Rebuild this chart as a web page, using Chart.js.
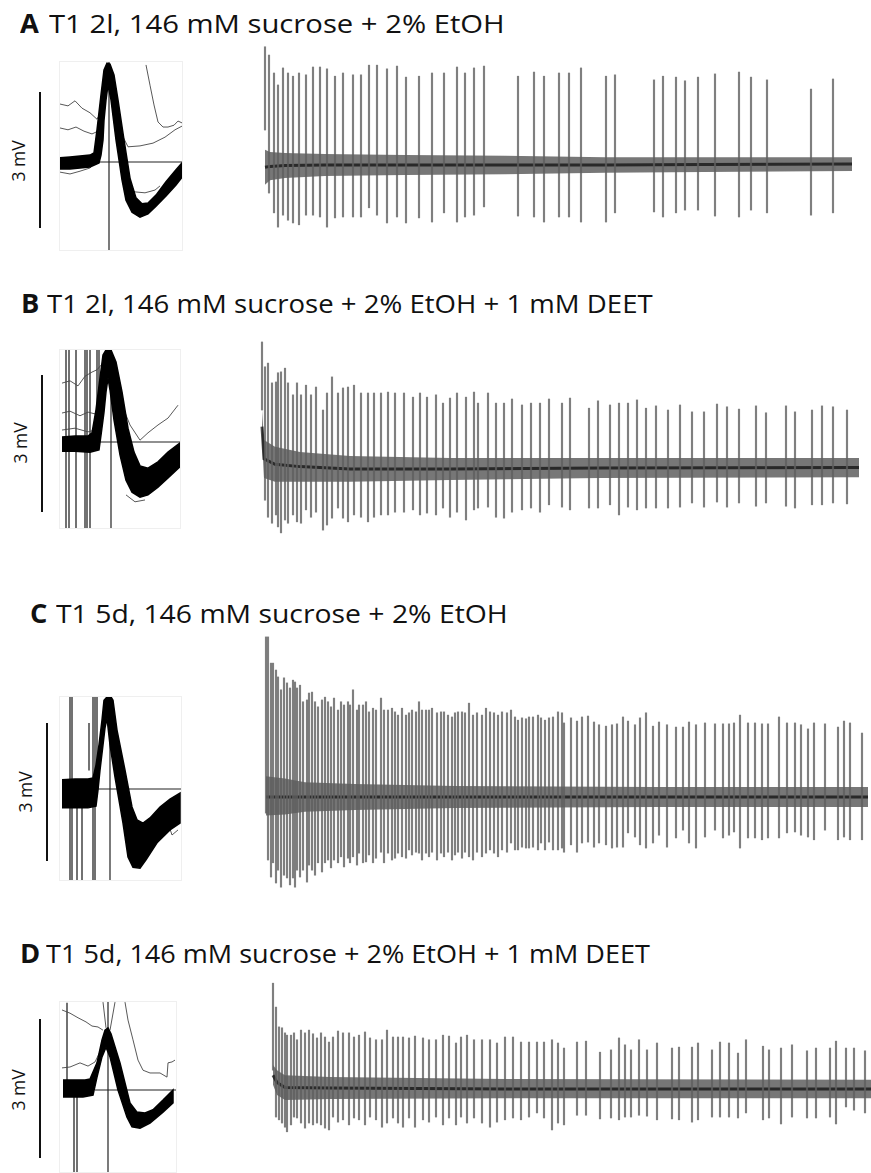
<!DOCTYPE html>
<html>
<head>
<meta charset="utf-8">
<script src="https://cdn.jsdelivr.net/npm/chart.js@4.4.0/dist/chart.umd.min.js"></script>
<style>
  body { margin: 0; width: 871px; height: 1173px; position: relative; overflow: hidden; background: #fff; font-family: "Open Sans", sans-serif; color: #111; }
  .lbl { position: absolute; font-size: 26px; line-height: 1; font-weight: 700; transform: scaleX(1.05); transform-origin: left top; }
  .ttl { position: absolute; font-size: 26px; line-height: 1; white-space: nowrap; transform-origin: left top; }
  .sbar { position: absolute; width: 2px; background: #111; }
  .mv { position: absolute; font-size: 17.5px; line-height: 1; white-space: nowrap; transform: translate(-50%, -50%) rotate(-90deg); }
  canvas { position: absolute; }
  .frame { outline: 1px solid #efefef; }
</style>
</head>
<body>
<div class="lbl" style="left:20px;top:10px">A</div>
<div class="ttl" style="left:49px;top:10px;transform:scaleX(1.125)">T1 2l, 146 mM sucrose + 2% EtOH</div>
<div class="lbl" style="left:21px;top:290px">B</div>
<div class="ttl" style="left:47px;top:290px;transform:scaleX(1.06)">T1 2l, 146 mM sucrose + 2% EtOH + 1 mM DEET</div>
<div class="lbl" style="left:30px;top:600px">C</div>
<div class="ttl" style="left:56px;top:600px;transform:scaleX(1.09)">T1 5d, 146 mM sucrose + 2% EtOH</div>
<div class="lbl" style="left:20px;top:940px">D</div>
<div class="ttl" style="left:46px;top:940px;transform:scaleX(1.04)">T1 5d, 146 mM sucrose + 2% EtOH + 1 mM DEET</div>

<div class="sbar" style="left:39px;top:92px;height:136px"></div>
<div class="sbar" style="left:41px;top:375px;height:137px"></div>
<div class="sbar" style="left:46px;top:723px;height:138px"></div>
<div class="sbar" style="left:39px;top:1019px;height:139px"></div>
<div class="mv" style="left:19px;top:161px">3 mV</div>
<div class="mv" style="left:21px;top:443px">3 mV</div>
<div class="mv" style="left:26px;top:792px">3 mV</div>
<div class="mv" style="left:19px;top:1090px">3 mV</div>

<canvas id="waveA" class="frame"></canvas><canvas id="traceA"></canvas>
<canvas id="waveB" class="frame"></canvas><canvas id="traceB"></canvas>
<canvas id="waveC" class="frame"></canvas><canvas id="traceC"></canvas>
<canvas id="waveD" class="frame"></canvas><canvas id="traceD"></canvas>

<script>
// ---- A: T1 2l, sucrose + EtOH ----
// spike train: time (ms), positive and negative peak (mV, re baseline)
const aSpikeT = [20,28,38,46,56,66,76,88,102,116,130,144,160,176,196,212,228,244,264,284,302,328,354,378,404,420,438,458,526,558,578,608,628,652,702,720,798,816,842,860,886,920,968,992,1024,1112,1156];
const aSpikeUp = [2.57,2.39,2.00,1.74,2.11,2.00,1.93,2.00,1.96,2.13,2.13,2.09,1.93,2.00,1.96,1.96,2.17,2.17,2.09,2.15,1.91,1.93,2.00,2.00,2.13,2.00,2.11,2.15,1.93,2.02,1.93,2.00,2.00,2.11,1.93,1.96,1.85,1.93,1.91,1.83,1.91,1.98,2.02,1.91,1.85,1.65,1.87];
const aSpikeDn = [0.76,-0.61,-1.04,-1.35,-1.09,-1.20,-1.26,-1.30,-1.09,-1.09,-1.13,-1.35,-1.15,-1.13,-1.13,-1.13,-0.93,-1.09,-1.26,-1.13,-1.26,-1.15,-1.24,-1.04,-1.24,-1.13,-1.09,-0.91,-1.11,-1.13,-1.24,-1.13,-1.13,-1.24,-1.24,-1.04,-1.02,-1.13,-1.04,-0.98,-0.98,-1.11,-1.13,-0.98,-1.04,-1.09,-1.04];
// baseline noise envelope
const aBaseT = [20,30,60,140,300,500,700,900,1194];
const aBaseHi = [0.33,0.28,0.26,0.24,0.22,0.20,0.17,0.17,0.17];
const aBaseLo = [-0.43,-0.33,-0.28,-0.24,-0.22,-0.20,-0.17,-0.15,-0.13];
const aBaseMid = [-0.05,-0.03,-0.01,0,0,0,0,0.01,0.02];
// overlaid spike waveforms: outline of the dense bundle (ms, mV)
const aWaveX = [0,0.2,0.4,0.6,0.68,0.74,0.82,0.88,0.94,1.0,1.08,1.16,1.28,1.4,1.52,1.64,1.76,1.92,2.12,2.32,2.44,
                2.44,2.32,2.12,1.92,1.76,1.6,1.44,1.32,1.24,1.12,1.02,0.96,0.92,0.88,0.86,0.82,0.78,0.6,0.4,0.2,0];
const aWaveY = [0.09,0.11,0.13,0.15,0.20,0.70,1.46,2.00,2.15,2.13,1.89,1.35,0.48,-0.35,-0.78,-0.91,-0.89,-0.72,-0.43,-0.17,-0.02,
                -0.33,-0.50,-0.74,-0.96,-1.13,-1.20,-1.09,-0.83,-0.39,0.48,1.35,1.67,1.35,0.91,0.48,0.15,-0.02,-0.11,-0.13,-0.15,-0.15];
const aStrayX = [[0,0.16,0.3,0.44,0.6,0.74,0.82,0.9],[0,0.16,0.32,0.48,0.64,0.76,0.86],[1.72,1.8,1.88,1.96,2.06,2.16,2.28,2.36,2.44],
                 [1.12,1.24,1.36,1.6,1.86,2.1,2.3,2.44],[1.36,1.5,1.7,1.9,2.0],[0,0.2,0.4,0.6,0.72]];
const aStrayY = [[1.26,1.22,1.33,1.17,1.07,0.93,1.09,1.52],[0.74,0.70,0.76,0.67,0.61,0.67,1.09],[2.11,1.67,1.24,0.87,0.76,0.76,0.80,0.89,0.85],
                 [1.02,0.59,0.33,0.35,0.41,0.54,0.70,0.78],[-0.57,-0.65,-0.67,-0.61,-0.52],[-0.22,-0.26,-0.20,-0.13,0]];
const aArtX = [], aArtTop = [], aArtBot = [];
const aZeroFrom = 0.7, aPeakAt = 0.98;

// ---- B: T1 2l, sucrose + EtOH + DEET ----
const bSpikeT = [14,20,26,34,42,46,52,60,66,76,84,92,102,112,122,136,144,154,166,176,186,198,212,226,238,252,266,280,298,316,330,344,362,376,390,404,422,438,446,466,482,498,514,534,552,570,588,614,630,668,686,710,728,746,764,782,802,826,850,874,898,924,944,968,1002,1022,1062,1080,1114,1134,1156,1184];
const bSpikeUp = [2.74,2.20,2.28,1.85,1.87,2.07,2.09,2.17,1.85,1.59,1.85,1.59,1.80,1.59,1.76,1.26,1.63,1.98,1.63,1.74,1.76,1.80,1.63,1.63,1.63,1.63,1.65,1.63,1.63,1.54,1.63,1.54,1.59,1.41,1.52,1.63,1.54,1.65,1.41,1.63,1.41,1.41,1.50,1.37,1.41,1.41,1.50,1.41,1.52,1.30,1.46,1.37,1.41,1.41,1.48,1.30,1.35,1.26,1.37,1.22,1.22,1.39,1.33,1.28,1.35,1.20,1.35,1.22,1.26,1.35,1.33,1.26];
const bSpikeDn = [1.26,-0.70,-1.07,-1.20,-1.02,-1.28,-1.41,-1.13,-1.20,-1.02,-1.17,-1.20,-0.91,-1.07,-0.96,-1.35,-1.24,-1.09,-0.87,-1.09,-1.17,-1.02,-1.07,-1.17,-1.07,-1.02,-1.02,-0.96,-0.96,-0.91,-1.02,-0.98,-1.02,-0.87,-1.07,-0.96,-1.13,-0.91,-0.87,-0.85,-1.07,-1.09,-0.96,-0.91,-0.87,-0.96,-0.80,-0.85,-0.91,-0.87,-0.87,-0.80,-1.02,-0.85,-0.91,-0.87,-0.87,-0.87,-0.85,-0.76,-0.85,-0.74,-0.85,-0.76,-0.83,-0.76,-0.83,-0.87,-0.80,-0.80,-0.76,-0.78];
const bBaseT = [14,18,40,90,190,390,690,1208];
const bBaseHi = [1.26,0.61,0.46,0.35,0.26,0.22,0.22,0.22];
const bBaseLo = [0.60,-0.22,-0.30,-0.30,-0.30,-0.26,-0.22,-0.20];
const bBaseMid = [0.90,0.20,0.08,0.03,-0.02,-0.02,0,0.01];
const bWaveX = [0.04,0.3,0.56,0.64,0.72,0.8,0.86,0.92,1.02,1.12,1.24,1.36,1.48,1.6,1.76,1.96,2.16,2.4,
                2.4,2.16,1.96,1.76,1.6,1.44,1.32,1.2,1.08,1.0,0.96,0.92,0.88,0.82,0.78,0.6,0.3,0.04];
const bWaveY = [0.11,0.13,0.13,0.20,0.70,1.39,1.89,2.0,2.0,1.74,1.09,0.30,-0.22,-0.52,-0.57,-0.43,-0.22,-0.02,
                -0.54,-0.78,-0.98,-1.15,-1.20,-1.09,-0.83,-0.28,0.48,1.13,1.39,1.09,0.65,0.15,-0.17,-0.22,-0.20,-0.20];
const bStrayX = [[0.04,0.2,0.36,0.5,0.64,0.74,0.82],[0.04,0.2,0.4,0.56,0.7,0.78],[0.04,0.3,0.56,0.7],
                 [1.04,1.2,1.4,1.6,1.76,1.96,2.16,2.36],[1.32,1.5,1.7]];
const bStrayY = [[1.28,1.33,1.22,1.43,1.52,1.57,1.67],[0.63,0.67,0.57,0.65,0.61,0.80],[0.26,0.30,0.22,0.26],
                 [1.78,0.91,0.37,0.04,0.20,0.37,0.52,0.80],[-1.15,-1.30,-1.26]];
const bArtX = [0.12,0.18,0.32,0.5,0.54,0.6,0.74,0.78];
const bArtTop = [2,2,2,2,2,2,2,2];
const bArtBot = [-1.87,-1.87,-1.87,-1.87,-1.87,-1.87,-0.07,-0.07];
const bZeroFrom = 0.74, bPeakAt = 1.02;

// ---- C: T1 5d, sucrose + EtOH ----
const cSpikeT = [22,26,32,36,42,46,52,58,64,70,76,80,84,90,96,104,108,114,120,126,134,140,146,152,158,166,172,178,186,190,196,204,208,216,222,228,236,242,252,258,266,274,280,286,294,302,308,314,322,328,334,342,348,354,364,372,378,386,394,400,406,414,420,428,436,444,454,462,470,478,486,494,504,512,520,526,534,542,548,556,566,572,580,588,596,606,614,618,632,644,654,666,678,688,702,714,724,736,746,760,770,782,796,808,824,842,856,868,882,900,920,936,948,958,970,986,1000,1014,1026,1048,1064,1080,1092,1106,1118,1140,1166,1178,1190,1214];
const cSpikeUp = [3.48,3.48,2.91,2.91,2.76,2.61,2.33,2.59,2.48,2.37,2.54,2.50,2.37,2.43,2.07,2.11,2.26,2.28,2.07,1.96,2.11,2.17,2.07,1.96,2.15,1.89,2.07,2.00,2.07,2.00,2.33,1.89,2.00,2.00,2.07,1.85,1.93,1.89,2.15,1.89,1.89,1.93,1.85,1.78,1.93,1.78,1.83,1.89,1.85,2.07,1.89,1.89,1.89,1.93,1.83,1.85,1.85,1.78,1.74,1.83,1.85,1.85,1.83,2.04,1.78,1.83,1.78,1.93,1.85,1.83,1.78,1.85,1.83,1.89,1.74,1.67,1.72,1.70,1.74,1.74,1.78,1.72,1.67,1.72,1.74,1.85,1.83,1.61,1.72,1.65,1.74,1.76,1.63,1.57,1.54,1.57,1.59,1.74,1.65,1.57,1.72,1.83,1.54,1.63,1.57,1.52,1.52,1.63,1.57,1.61,1.59,1.59,1.59,1.61,1.78,1.61,1.61,1.59,1.59,1.74,1.61,1.61,1.57,1.48,1.61,1.59,1.52,1.65,1.61,1.39];
const cSpikeDn = [-0.35,-1.37,-1.74,-1.43,-1.87,-1.59,-1.96,-1.70,-1.76,-1.91,-1.76,-1.96,-1.59,-1.74,-1.59,-1.85,-1.48,-1.59,-1.70,-1.43,-1.63,-1.43,-1.37,-1.54,-1.37,-1.43,-1.30,-1.52,-1.33,-1.43,-1.30,-1.48,-1.22,-1.43,-1.41,-1.26,-1.43,-1.33,-1.20,-1.43,-1.22,-1.37,-1.33,-1.22,-1.30,-1.33,-1.15,-1.26,-1.20,-1.22,-1.37,-1.22,-1.30,-1.20,-1.37,-1.22,-1.30,-1.20,-1.37,-1.26,-1.20,-1.33,-1.20,-1.30,-1.37,-1.20,-1.30,-1.22,-1.15,-1.22,-1.30,-1.15,-1.20,-1.00,-1.15,-1.15,-1.09,-1.11,-1.11,-1.09,-1.15,-1.00,-1.15,-0.98,-1.15,-1.15,-1.11,-1.20,-1.04,-1.20,-1.00,-0.98,-1.09,-1.00,-1.04,-1.11,-1.09,-1.09,-0.78,-0.87,-1.04,-1.11,-1.00,-0.83,-1.09,-0.89,-0.72,-1.00,-1.11,-0.87,-0.72,-0.89,-0.83,-0.76,-1.11,-0.89,-0.89,-0.93,-0.89,-0.89,-0.78,-0.76,-0.83,-0.87,-0.93,-0.72,-0.93,-0.87,-0.93,-0.93];
const cBaseT = [22,60,100,200,400,800,1226];
const cBaseHi = [0.45,0.40,0.32,0.28,0.24,0.22,0.22];
const cBaseLo = [-0.40,-0.38,-0.32,-0.28,-0.24,-0.22,-0.22];
const cBaseMid = [0,0,0,0,0,0,0];
const cWaveX = [0.04,0.3,0.56,0.66,0.72,0.78,0.84,0.88,0.94,1.02,1.06,1.14,1.3,1.44,1.54,1.66,1.8,2.0,2.2,2.4,
                2.4,2.2,1.94,1.72,1.6,1.46,1.36,1.26,1.18,1.1,1.0,0.94,0.9,0.86,0.8,0.76,0.72,0.56,0.3,0.04];
const cWaveY = [0.20,0.22,0.22,0.24,0.52,0.96,1.50,1.93,2.0,2.0,1.93,1.28,0.41,-0.39,-0.67,-0.74,-0.63,-0.39,-0.22,-0.09,
                -0.74,-0.89,-1.17,-1.54,-1.72,-1.70,-1.48,-0.74,-0.24,0.26,0.96,1.54,1.33,0.96,0.41,-0.02,-0.37,-0.41,-0.41,-0.41];
const cStrayX = [[2.16,2.24,2.36]];
const cStrayY = [[-0.74,-1.0,-0.89]];
const cArtX = [0.2,0.24,0.34,0.44,0.58,0.66,0.7,0.74];
const cArtTop = [2,2,0.04,0.04,1.43,2,2,2];
const cArtBot = [-1.98,-1.98,-1.98,-1.98,0.41,-1.98,-1.98,0.04];
const cZeroFrom = 0.76, cPeakAt = 1.0;

// ---- D: T1 5d, sucrose + EtOH + DEET ----
const dSpikeT = [36,42,48,54,60,64,72,78,84,92,100,108,116,124,132,140,148,156,166,176,188,198,208,220,230,242,254,264,276,286,296,308,320,336,348,362,376,388,402,412,424,438,454,470,484,500,516,532,548,564,578,594,606,618,644,662,690,712,728,740,752,768,784,804,834,848,874,886,914,930,948,966,982,1016,1028,1052,1074,1104,1122,1150,1162,1182,1198,1220];
const dSpikeUp = [2.30,1.78,1.35,1.33,1.22,1.17,1.17,1.22,1.07,1.28,1.22,1.28,1.20,1.11,1.22,1.13,1.02,1.13,1.26,1.22,1.22,1.13,1.17,1.24,1.11,1.07,1.07,1.28,1.13,1.13,1.13,1.11,1.15,1.11,1.07,1.07,1.17,1.15,1.00,1.13,1.17,1.07,1.07,1.07,1.00,1.13,1.13,1.02,1.02,1.02,1.02,1.07,1.00,0.89,1.02,1.04,0.80,0.85,1.11,0.96,0.85,1.07,0.85,1.00,0.89,0.91,0.91,1.00,0.85,1.02,1.00,0.78,1.07,0.93,0.85,0.89,0.96,0.83,0.89,0.89,1.04,0.89,0.89,0.83];
const dSpikeDn = [0.41,-0.61,-0.67,-0.74,-0.83,-0.93,-0.78,-0.61,-0.63,-0.74,-0.85,-0.74,-0.78,-0.74,-0.78,-0.85,-0.89,-0.61,-0.72,-0.67,-0.78,-0.63,-0.67,-0.78,-0.61,-0.67,-0.83,-0.74,-0.63,-0.74,-0.83,-0.63,-0.83,-0.67,-0.72,-0.61,-0.78,-0.63,-0.78,-0.61,-0.74,-0.63,-0.74,-0.83,-0.72,-0.67,-0.63,-0.67,-0.61,-0.52,-0.63,-0.89,-0.74,-0.78,-0.57,-0.57,-0.65,-0.63,-0.67,-0.61,-0.61,-0.57,-0.59,-0.67,-0.65,-0.67,-0.72,-0.67,-0.61,-0.61,-0.61,-0.63,-0.52,-0.67,-0.63,-0.76,-0.61,-0.63,-0.63,-0.61,-0.76,-0.39,-0.46,-0.52];
const dBaseT = [36,44,60,150,500,1232];
const dBaseHi = [0.52,0.41,0.30,0.26,0.22,0.20];
const dBaseLo = [0.09,-0.13,-0.24,-0.22,-0.20,-0.20];
const dBaseMid = [0.30,0.14,0.03,0.02,0,0];
const dWaveX = [0.06,0.3,0.5,0.6,0.74,0.84,0.9,0.96,1.02,1.2,1.4,1.54,1.7,1.86,2.06,2.26,
                2.26,2.06,1.8,1.6,1.44,1.34,1.16,1.0,0.92,0.84,0.74,0.66,0.46,0.06];
const dWaveY = [0.22,0.22,0.22,0.24,0.59,1.09,1.30,1.35,1.22,0.59,-0.28,-0.48,-0.50,-0.43,-0.22,0,
                -0.28,-0.48,-0.72,-0.83,-0.80,-0.59,0,0.72,0.93,0.72,0.28,-0.11,-0.15,-0.15];
const dStrayX = [[0.04,0.2,0.36,0.52,0.64,0.76,0.86],[0.04,0.2,0.4,0.56,0.7,0.8],
                 [1.3,1.36,1.46,1.56,1.66,1.8,2.0,2.14,2.16,2.24,2.3],[0.86,0.92],[1.1,1.0]];
const dStrayY = [[1.74,1.67,1.57,1.48,1.39,1.37,1.30],[0.48,0.50,0.59,0.52,0.61,0.83],
                 [1.91,1.52,1.09,0.65,0.43,0.37,0.37,0.28,0.59,0.61,0.65],[1.91,1.35],[1.91,1.30]];
const dArtX = [0.14,0.28,0.34];
const dArtTop = [1.89,0,0];
const dArtBot = [0.22,-1.78,-1.78];
const dZeroFrom = 0.7, dPeakAt = 0.96;

// ---- layout (px) ----
const MV = 46;          // px per mV, same gain in every panel
const MS = 50;          // waveform panels: px per ms
const TRACE_LEFT = 255, TRACE_W = 616, TRACE_MS = 1232;
const layout = {
  A: { top: 40,  h: 190, zero: 165,  wl: 60, wt: 62,   ww: 122, wh: 188, wz: 162 },
  B: { top: 330, h: 210, zero: 468,  wl: 60, wt: 350,  ww: 120, wh: 178, wz: 442 },
  C: { top: 630, h: 260, zero: 797,  wl: 60, wt: 697,  ww: 121, wh: 183, wz: 789 },
  D: { top: 970, h: 170, zero: 1089, wl: 60, wt: 1002, ww: 116, wh: 170, wz: 1090 },
};

const panels = {
  A: { t: aSpikeT, up: aSpikeUp, dn: aSpikeDn, bt: aBaseT, hi: aBaseHi, lo: aBaseLo, mid: aBaseMid,
       wx: aWaveX, wy: aWaveY, sx: aStrayX, sy: aStrayY, ax: aArtX, at: aArtTop, ab: aArtBot, z0: aZeroFrom, pk: aPeakAt },
  B: { t: bSpikeT, up: bSpikeUp, dn: bSpikeDn, bt: bBaseT, hi: bBaseHi, lo: bBaseLo, mid: bBaseMid,
       wx: bWaveX, wy: bWaveY, sx: bStrayX, sy: bStrayY, ax: bArtX, at: bArtTop, ab: bArtBot, z0: bZeroFrom, pk: bPeakAt },
  C: { t: cSpikeT, up: cSpikeUp, dn: cSpikeDn, bt: cBaseT, hi: cBaseHi, lo: cBaseLo, mid: cBaseMid,
       wx: cWaveX, wy: cWaveY, sx: cStrayX, sy: cStrayY, ax: cArtX, at: cArtTop, ab: cArtBot, z0: cZeroFrom, pk: cPeakAt },
  D: { t: dSpikeT, up: dSpikeUp, dn: dSpikeDn, bt: dBaseT, hi: dBaseHi, lo: dBaseLo, mid: dBaseMid,
       wx: dWaveX, wy: dWaveY, sx: dStrayX, sy: dStrayY, ax: dArtX, at: dArtTop, ab: dArtBot, z0: dZeroFrom, pk: dPeakAt },
};

const pts = (xs, ys) => xs.map((x, i) => ({ x, y: ys[i] }));

function baseOpts(xMax, yMin, yMax) {
  return {
    responsive: false,
    animation: false,
    devicePixelRatio: 1,
    events: [],
    layout: { padding: 0 },
    plugins: { legend: { display: false }, tooltip: { enabled: false } },
    elements: { point: { radius: 0 }, line: { tension: 0 } },
    scales: {
      x: { type: 'linear', min: 0, max: xMax, display: false, offset: false },
      y: { type: 'linear', min: yMin, max: yMax, display: false },
    },
  };
}

function place(cv, left, top, w, h) {
  cv.width = w; cv.height = h;
  cv.style.left = left + 'px'; cv.style.top = top + 'px';
  cv.style.width = w + 'px'; cv.style.height = h + 'px';
}

function drawTrace(id, d, L) {
  const cv = document.getElementById('trace' + id);
  place(cv, TRACE_LEFT, L.top, TRACE_W, L.h);
  const yMax = (L.zero - L.top) / MV, yMin = -(L.top + L.h - L.zero) / MV;
  new Chart(cv, {
    type: 'line',
    data: {
      datasets: [
        { type: 'bar', data: d.t.map((t, i) => ({ x: t, y: [d.dn[i], d.up[i]] })),
          backgroundColor: 'rgba(95,95,95,0.8)', barThickness: 1.5, order: 0 },
        { data: pts(d.bt, d.mid), borderColor: 'rgba(15,15,15,0.75)', borderWidth: 3, order: 1 },
        { data: pts(d.bt, d.hi), borderWidth: 0, fill: '+1', backgroundColor: 'rgba(55,55,55,0.68)', order: 2 },
        { data: pts(d.bt, d.lo), borderWidth: 0, fill: false, order: 3 },
      ],
    },
    options: baseOpts(TRACE_MS, yMin, yMax),
  });
}

function drawWave(id, d, L) {
  const cv = document.getElementById('wave' + id);
  place(cv, L.wl, L.wt, L.ww, L.wh);
  const xMax = L.ww / MS;
  const yMax = (L.wz - L.wt) / MV, yMin = -(L.wt + L.wh - L.wz) / MV;
  const strays = d.sx.map((xs, k) => ({
    data: pts(xs, d.sy[k]), borderColor: 'rgba(70,70,70,0.9)', borderWidth: 1, order: 2,
  }));
  new Chart(cv, {
    type: 'line',
    data: {
      datasets: [
        { data: [{ x: d.z0, y: 0 }, { x: xMax, y: 0 }], borderColor: '#222', borderWidth: 1.2, order: 4 },
        { data: [{ x: d.pk, y: yMin }, { x: d.pk, y: yMax }], borderColor: '#222', borderWidth: 1.2, order: 4 },
        { type: 'bar', data: d.ax.map((x, i) => ({ x, y: [d.ab[i], d.at[i]] })),
          backgroundColor: 'rgba(95,95,95,0.9)', barThickness: 1.3, order: 3 },
        ...strays,
        { data: pts(d.wx, d.wy), borderColor: '#000', borderWidth: 1.5, backgroundColor: '#000', fill: 'shape', order: 0 },
      ],
    },
    options: baseOpts(xMax, yMin, yMax),
  });
}

for (const id of ['A', 'B', 'C', 'D']) {
  drawTrace(id, panels[id], layout[id]);
  drawWave(id, panels[id], layout[id]);
}
</script>
</body>
</html>
